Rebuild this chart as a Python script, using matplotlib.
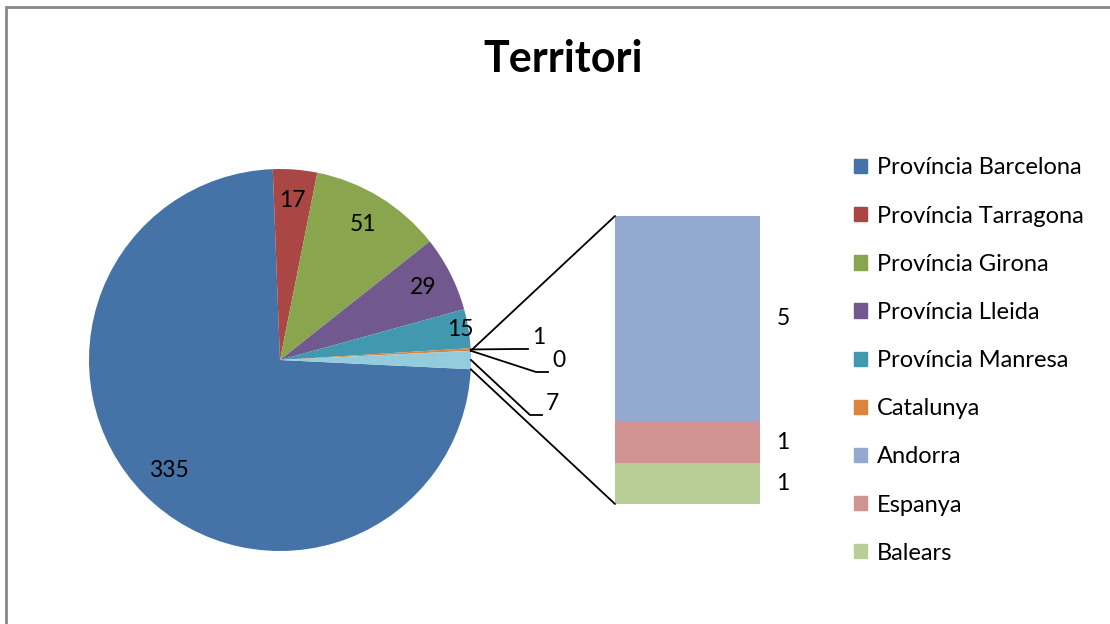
import numpy as np
import matplotlib.pyplot as plt
from matplotlib.patches import Patch, Rectangle, ConnectionPatch

plt.rcParams['font.family'] = ['Lato', 'DejaVu Sans']

# dades
pie_labels = ['Província Barcelona', 'Província Tarragona', 'Província Girona',
              'Província Lleida', 'Província Manresa', 'Catalunya', '']
pie_values = [335, 17, 51, 29, 15, 1, 0]
bar_labels = ['Andorra', 'Espanya', 'Balears']
bar_values = [5, 1, 1]

pie_colors = ['#4572A7', '#AA4643', '#89A54E', '#71588F', '#4198AF', '#DB843D', '#DB843D']
other_color = '#93CDDD'
bar_colors = ['#93A9CF', '#D19392', '#B9CD96']

W, H = 1110, 624
fig = plt.figure(figsize=(W / 100, H / 100), dpi=100)
ax = fig.add_axes([0, 0, 1, 1])

cx, cy, R = 280, H - 360, 191
valors = pie_values + [sum(bar_values)]
colors = pie_colors + [other_color]
frac_other = valors[-1] / sum(valors)
start = -frac_other * 360 / 2

wedges, _ = ax.pie(valors, colors=colors, startangle=start, counterclock=False,
                   center=(cx, cy), radius=R, wedgeprops=dict(linewidth=0))
ax.set_xlim(0, W)
ax.set_ylim(0, H)
ax.set_aspect('equal')
ax.axis('off')

fs = 16.5

# etiquetes dins del pastis
dist_inside = [0.82, 0.84, 0.83, 0.84, 0.96]
for w, v, d in zip(wedges[:5], valors[:5], dist_inside):
    a = np.deg2rad((w.theta1 + w.theta2) / 2)
    ax.text(cx + d * R * np.cos(a), cy + d * R * np.sin(a), str(v),
            ha='center', va='center', fontsize=fs)

# etiquetes fora amb linies guia (x esquerra, y base en pixels)
outside_pos = [(532, 349), (552, 372), (546, 415)]
for w, v, (tx, ty) in zip(wedges[5:], valors[5:], outside_pos):
    a = np.deg2rad((w.theta1 + w.theta2) / 2)
    ex, ey = cx + R * np.cos(a), cy + R * np.sin(a)
    ty = H - ty
    ax.plot([ex, tx - 16, tx - 4], [ey, ty, ty], color='black', lw=1.3)
    ax.text(tx, ty + 1, str(v), ha='left', va='bottom', fontsize=fs)

# barra
bx0, by0, bw, bh = 615, 216, 145, 288
ax2 = fig.add_axes([bx0 / W, (H - by0 - bh) / H, bw / W, bh / H])
bottom = 0
for lab, v, c in zip(bar_labels[::-1], bar_values[::-1], bar_colors[::-1]):
    ax2.bar(0, v, width=1, bottom=bottom, color=c, linewidth=0)
    ax2.text(1.16, bottom + v / 2, str(v), transform=ax2.get_yaxis_transform(),
             ha='center', va='center', fontsize=fs)
    bottom += v
ax2.set_xlim(-0.5, 0.5)
ax2.set_ylim(0, sum(bar_values))
ax2.axis('off')

# linies d'unio
ow = wedges[-1]
for ang, corner in [(ow.theta2, (0, 1)), (ow.theta1, (0, 0))]:
    a = np.deg2rad(ang)
    con = ConnectionPatch(xyA=(cx + R * np.cos(a), cy + R * np.sin(a)), coordsA=ax.transData,
                          xyB=corner, coordsB=ax2.transAxes, color='black', lw=1.3)
    fig.add_artist(con)

# titol
fig.text(563 / W, 1 - 59 / H, 'Territori', ha='center', va='center',
         fontsize=31, fontweight='bold')

# llegenda
handles = [Patch(color=c, label=l) for c, l in zip(pie_colors[:6], pie_labels[:6])]
handles += [Patch(color=c, label=l) for c, l in zip(bar_colors, bar_labels)]
ax.legend(handles=handles, loc='upper left', bbox_to_anchor=(845 / W, 1 - 148 / H),
          frameon=False, fontsize=17, handlelength=0.55, handleheight=0.55,
          handletextpad=0.4, labelspacing=1.15, borderaxespad=0)

# marc
fig.add_artist(Rectangle((6 / W, -0.1), 1.2, 1 - 7 / H + 0.1, transform=fig.transFigure,
                         fill=False, edgecolor='#888888', lw=2))

fig.savefig('out.png', dpi=100)
